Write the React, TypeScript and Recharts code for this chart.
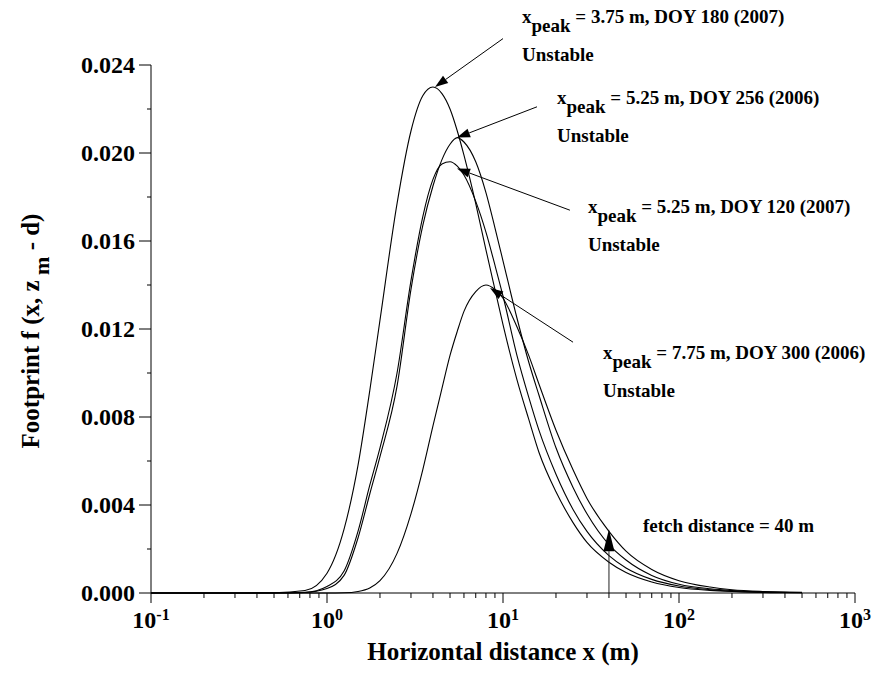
import { LineChart, Line, XAxis, YAxis, ReferenceLine } from 'recharts';

const FONT = "'Liberation Serif', 'Times New Roman', serif";

// horizontal distance (m), log spaced
const distance = [0.1, 0.25, 0.5, 0.75, 1, 1.25, 1.5, 1.75, 2, 2.5, 3, 3.5, 4, 4.5, 5, 5.5, 6, 7, 8, 9, 10, 12, 14, 16, 20, 25, 30, 40, 50, 70, 100, 150, 200, 300, 500];

// footprint values
const doy180_2007 = [0, 0, 0.00001, 0.00011, 0.0009, 0.0029, 0.0058, 0.0092, 0.0124, 0.0177, 0.021, 0.0226, 0.023, 0.0227, 0.022, 0.021, 0.0199, 0.0177, 0.0156, 0.0138, 0.0122, 0.0097, 0.0079, 0.0064, 0.0046, 0.0032, 0.0023, 0.0014, 0.00093, 0.0005, 0.00025, 0.00012, 0.00007, 0.00003, 0.00001];
const doy256_2006 = [0, 0, 0, 0.00002, 0.0002, 0.0008, 0.0025, 0.0045, 0.0062, 0.0094, 0.0138, 0.0167, 0.0185, 0.0197, 0.0204, 0.0207, 0.0205, 0.0196, 0.0182, 0.0166, 0.0151, 0.0125, 0.0105, 0.009, 0.0066, 0.0048, 0.0036, 0.0022, 0.0015, 0.0008, 0.0004, 0.00019, 0.00011, 0.00005, 0.00002];
const doy120_2007 = [0, 0, 0, 0.00003, 0.0003, 0.001, 0.0028, 0.0049, 0.0066, 0.01, 0.0142, 0.0171, 0.0188, 0.0195, 0.0196, 0.0194, 0.019, 0.0178, 0.0164, 0.0149, 0.0135, 0.0108, 0.0089, 0.0074, 0.0054, 0.0038, 0.0028, 0.0017, 0.00114, 0.00062, 0.00032, 0.00015, 0.00008, 0.00004, 0.00001];
const doy300_2006 = [0, 0, 0, 0, 0, 0.00001, 0.00007, 0.00023, 0.00056, 0.0018, 0.0036, 0.0056, 0.0076, 0.0093, 0.0108, 0.0119, 0.0128, 0.0137, 0.014, 0.0138, 0.0134, 0.0121, 0.0108, 0.0095, 0.0074, 0.0056, 0.0043, 0.0028, 0.0019, 0.00107, 0.00056, 0.00027, 0.00015, 0.00007, 0.00003];

const seriesKeys = ['doy180_2007', 'doy256_2006', 'doy120_2007', 'doy300_2006'];

const xTicks = [0.1, 0.2, 0.3, 0.4, 0.5, 0.6, 0.7, 0.8, 0.9, 1, 2, 3, 4, 5, 6, 7, 8, 9, 10, 20, 30, 40, 50, 60, 70, 80, 90, 100, 200, 300, 400, 500, 600, 700, 800, 900, 1000];
const decadeExp: Record<string, string> = { '0.1': '-1', '1': '0', '10': '1', '100': '2', '1000': '3' };
const yTicks = [0, 0.002, 0.004, 0.006, 0.008, 0.01, 0.012, 0.014, 0.016, 0.018, 0.02, 0.022, 0.024];

// annotations
const peakLabels = ['= 3.75 m, DOY 180 (2007)', '= 5.25 m, DOY 256 (2006)', '= 5.25 m, DOY 120 (2007)', '= 7.75 m, DOY 300 (2006)'];
const stabilityLabel = 'Unstable';
const arrowTails = [[10, 0.0252], [15.6, 0.0221], [24, 0.0174], [25, 0.0114]];
const arrowHeads = [[4.11, 0.023], [5.48, 0.0207], [5.48, 0.0193], [8.44, 0.01386]];
const labelOffsets = [[19, -16], [20, -3], [18, 3], [30, 17]];
const fetchDistance = 40;
const fetchArrowTop = 0.0029;
const fetchLabel = 'fetch distance = 40 m';

const data = distance.map((x, i) => ({
  x,
  doy180_2007: doy180_2007[i],
  doy256_2006: doy256_2006[i],
  doy120_2007: doy120_2007[i],
  doy300_2006: doy300_2006[i],
}));

const headPoints = (x1: number, y1: number, x2: number, y2: number, len: number, half: number) => {
  const dx = x2 - x1;
  const dy = y2 - y1;
  const d = Math.hypot(dx, dy) || 1;
  const ux = dx / d;
  const uy = dy / d;
  const bx = x2 - ux * len;
  const by = y2 - uy * len;
  return {
    bx,
    by,
    pts: `${x2},${y2} ${bx - uy * half},${by + ux * half} ${bx + uy * half},${by - ux * half}`,
  };
};

const peakArrow = (i: number) => (p: any) => {
  const { x1, y1, x2, y2 } = p;
  const h = headPoints(x1, y1, x2, y2, 13, 4.5);
  const tx = x1 + labelOffsets[i][0];
  const ty = y1 + labelOffsets[i][1];
  return (
    <g>
      <line x1={x1} y1={y1} x2={h.bx} y2={h.by} stroke="#000" strokeWidth={1} />
      <polygon points={h.pts} fill="#000" />
      <text x={tx} y={ty} fontSize={19} fontWeight="bold" fontFamily={FONT} fill="#000">
        x<tspan dy={9}>peak</tspan>
        <tspan dy={-9}> {peakLabels[i]}</tspan>
      </text>
      <text x={tx} y={ty + 38} fontSize={19} fontWeight="bold" fontFamily={FONT} fill="#000">
        {stabilityLabel}
      </text>
    </g>
  );
};

const fetchArrow = (p: any) => {
  const { x1, y1, x2, y2 } = p;
  const h = headPoints(x1, y1, x2, y2, 22, 5.5);
  return (
    <g>
      <line x1={x1} y1={y1} x2={h.bx} y2={h.by} stroke="#222" strokeWidth={1} />
      <polygon points={h.pts} fill="#000" />
      <text x={x2 + 34} y={y2 + 3} fontSize={19} fontWeight="bold" fontFamily={FONT} fill="#000">
        {fetchLabel}
      </text>
    </g>
  );
};

const XTick = (props: any) => {
  const { x, y, payload } = props;
  const exp = decadeExp[String(payload.value)];
  const major = exp !== undefined;
  return (
    <g>
      <line x1={x} y1={y} x2={x} y2={y + (major ? 10 : 5)} stroke="#000" />
      {major && (
        <text x={x} y={y + 35} textAnchor="middle" fontSize={24} fontWeight="bold" fontFamily={FONT} fill="#000">
          10<tspan dy={-8} fontSize={16}>{exp}</tspan>
        </text>
      )}
    </g>
  );
};

const YTick = (props: any) => {
  const { x, y, payload } = props;
  const major = Math.round(payload.value * 1000) % 4 === 0;
  return (
    <g>
      <line x1={x} y1={y} x2={x - (major ? 12 : 4)} y2={y} stroke="#000" />
      {major && (
        <text x={x - 16} y={y + 8} textAnchor="end" fontSize={24} fontWeight="bold" fontFamily={FONT} fill="#000">
          {payload.value.toFixed(3)}
        </text>
      )}
    </g>
  );
};

const XTitle = (props: any) => {
  const { x, y, width } = props.viewBox;
  return (
    <text x={x + width / 2} y={y + 67} textAnchor="middle" fontSize={25} fontWeight="bold" fontFamily={FONT} fill="#000">
      Horizontal distance x (m)
    </text>
  );
};

const YTitle = (props: any) => {
  const { y, height } = props.viewBox;
  const cy = y + height / 2 + 2;
  return (
    <text transform={`translate(39, ${cy}) rotate(-90)`} textAnchor="middle" fontSize={25} fontWeight="bold" fontFamily={FONT} fill="#000">
      Footprint f (x, z<tspan dy={10} fontSize={22}> m</tspan>
      <tspan dy={-10}> - d)</tspan>
    </text>
  );
};

export default function App() {
  return (
    <div style={{ position: 'absolute', left: 0, top: 0, background: '#fff' }}>
      <LineChart width={884} height={675} data={data} margin={{ top: 65, right: 29, bottom: 0, left: 0 }}>
        <XAxis
          dataKey="x"
          type="number"
          scale="log"
          domain={[0.1, 1000]}
          ticks={xTicks}
          interval={0}
          height={82}
          tickSize={0}
          tickMargin={0}
          tickLine={false}
          tick={(p: any) => <XTick {...p} />}
          axisLine={{ stroke: '#000' }}
          allowDataOverflow
          label={{ content: (p: any) => <XTitle {...p} /> }}
        />
        <YAxis
          type="number"
          domain={[0, 0.024]}
          ticks={yTicks}
          interval={0}
          width={151}
          tickSize={0}
          tickMargin={0}
          tickLine={false}
          tick={(p: any) => <YTick {...p} />}
          axisLine={{ stroke: '#000' }}
          label={{ content: (p: any) => <YTitle {...p} /> }}
        />
        {seriesKeys.map((k) => (
          <Line
            key={k}
            dataKey={k}
            type="monotone"
            stroke="#000"
            strokeWidth={1.1}
            dot={false}
            isAnimationActive={false}
          />
        ))}
        {arrowTails.map((t, i) => (
          <ReferenceLine
            key={`arrow-${i}`}
            segment={[{ x: t[0], y: t[1] }, { x: arrowHeads[i][0], y: arrowHeads[i][1] }]}
            ifOverflow="visible"
            shape={peakArrow(i)}
          />
        ))}
        <ReferenceLine
          segment={[{ x: fetchDistance, y: 0 }, { x: fetchDistance, y: fetchArrowTop }]}
          ifOverflow="visible"
          shape={fetchArrow}
        />
      </LineChart>
    </div>
  );
}
